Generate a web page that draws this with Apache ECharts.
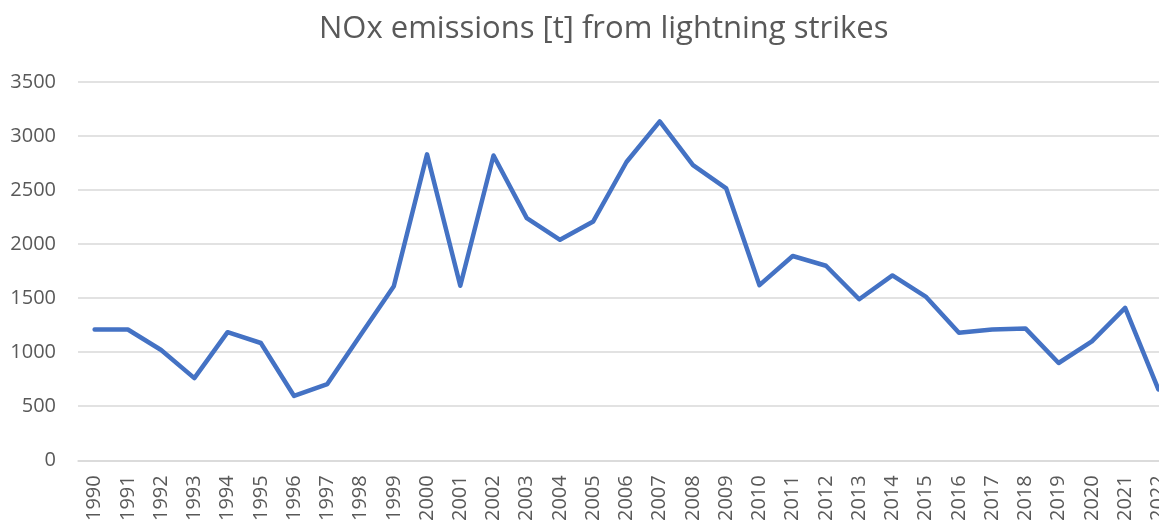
<!DOCTYPE html>
<html>
<head>
<meta charset="utf-8">
<script src="https://cdn.jsdelivr.net/npm/echarts@6/dist/echarts.min.js"></script>
<style>
  html, body { margin: 0; padding: 0; background: #fff; overflow: hidden; }
  /* the plot runs past the right edge, like the cropped original */
  .wrap { width: 1159px; height: 524px; overflow: hidden; position: relative; }
  #main { width: 1175px; height: 524px; position: absolute; left: 0; top: 0; }
</style>
</head>
<body>
<div class="wrap"><div id="main"></div></div>
<script>
// years on the x axis
var years = [
  "1990", "1991", "1992", "1993", "1994", "1995", "1996", "1997", "1998", "1999",
  "2000", "2001", "2002", "2003", "2004", "2005", "2006", "2007", "2008", "2009",
  "2010", "2011", "2012", "2013", "2014", "2015", "2016", "2017", "2018", "2019",
  "2020", "2021", "2022"
];
// NOx emissions [t]
var noxValues = [
  1210, 1210, 1020, 760, 1185, 1085, 595, 705, 1160, 1610,
  2830, 1615, 2820, 2240, 2040, 2210, 2760, 3135, 2730, 2515,
  1620, 1890, 1800, 1490, 1710, 1515, 1180, 1210, 1220, 900,
  1100, 1410, 655
];
var chartTitle = "NOx emissions [t] from lightning strikes";

var chartDom = document.getElementById("main");
var myChart = echarts.init(chartDom);
var textColor = "#595959";
var fontFamily = "'Open Sans', 'Liberation Sans', sans-serif";

var option = {
  animation: false,
  title: {
    text: chartTitle,
    left: 314,
    top: 9,
    textStyle: {
      color: textColor,
      fontSize: 31,
      fontWeight: "normal",
      fontFamily: fontFamily,
    },
  },
  grid: {
    left: 78,
    right: 0,
    top: 82,
    bottom: 59,
    containLabel: false,
  },
  xAxis: {
    type: "category",
    data: years,
    boundaryGap: true,
    axisLine: { lineStyle: { color: "#d9d9d9", width: 1.5 } },
    axisTick: { show: false },
    axisLabel: {
      rotate: 90,
      interval: 0,
      margin: 15,
      color: textColor,
      fontSize: 20,
      fontFamily: fontFamily,
    },
  },
  yAxis: {
    type: "value",
    min: 0,
    max: 3500,
    interval: 500,
    axisLine: { show: false },
    axisTick: { show: false },
    splitLine: { lineStyle: { color: "#d9d9d9", width: 1.5 } },
    axisLabel: {
      margin: 22,
      color: textColor,
      fontSize: 20,
      fontFamily: fontFamily,
      formatter: function (v) {
        return String(v);
      },
    },
  },
  series: [
    {
      type: "line",
      data: noxValues,
      symbol: "none",
      lineStyle: { color: "#4472c4", width: 4.5, join: "round", cap: "round" },
    },
  ],
};

option && myChart.setOption(option);
</script>
</body>
</html>
